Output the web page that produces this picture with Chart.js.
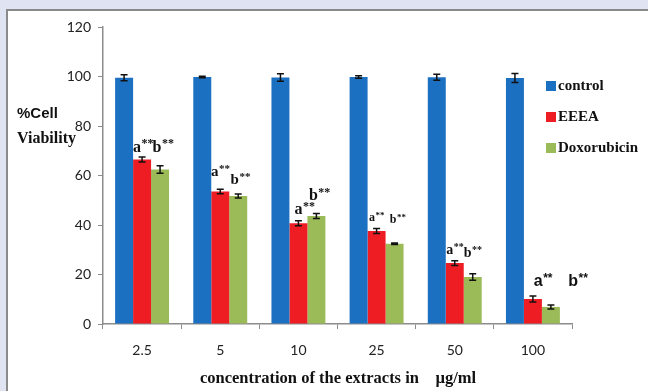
<!DOCTYPE html>
<html>
<head>
<meta charset="utf-8">
<script src="https://cdn.jsdelivr.net/npm/chart.js@4.4.1/dist/chart.umd.min.js"></script>
<style>
  html, body { margin: 0; padding: 0; background: #dfe3f2; overflow: hidden; }
  #frame { position: absolute; left: 6px; top: 9px; right: 0; bottom: 0; min-height: 382px;
           background: #fff; border-top: 2px solid #8a8a8a; border-left: 2px solid #8a8a8a; }
  #c { position: absolute; left: 0; top: 0; }
</style>
</head>
<body>
<div id="frame"></div>
<canvas id="c" width="648" height="391"></canvas>
<script>
// concentrations (ug/ml)
const concentrations = ['2.5', '5', '10', '25', '50', '100'];

// % cell viability
const control = [99.5, 99.8, 99.6, 99.8, 99.7, 99.4];
const eeea = [66.5, 53.5, 40.7, 37.6, 24.6, 10.1];
const doxorubicin = [62.4, 51.7, 43.6, 32.4, 19.0, 6.9];

// error bars (+/-)
const controlErr = [1.2, 0.3, 1.5, 0.5, 1.2, 1.8];
const eeeaErr = [1.0, 0.9, 1.0, 1.0, 1.0, 1.2];
const doxErr = [1.5, 0.8, 1.0, 0.3, 1.3, 0.8];

const yTicks = [0, 20, 40, 60, 80, 100, 120];

// significance marks over EEEA (a) and doxorubicin (b)
const marksA = ['a', 'a', 'a', 'a', 'a', 'a'];
const marksB = ['b', 'b', 'b', 'b', 'b', 'b'];

// label placement relative to bar top (pixels), style only
const aDx = [1, 0, 6, 0, 0, 10], aDy = [-12, -19, -13, -13, -13, -17];
const bDx = [3, 2, 3, 3, 0, 27], bDy = [-22, -16, -20, -24, -24, -25];
const markSize = [16, 15, 16, 12, 14, 16];
const markFont = ['serif', 'serif', 'serif', 'serif', 'serif', 'sans'];

const errs = [controlErr, eeeaErr, doxErr];

const errorBars = {
  id: 'errorBars',
  afterDatasetsDraw(chart) {
    const ctx = chart.ctx, y = chart.scales.y;
    ctx.save();
    ctx.strokeStyle = '#111';
    ctx.lineWidth = 1.5;
    chart.data.datasets.forEach((ds, di) => {
      chart.getDatasetMeta(di).data.forEach((bar, i) => {
        const v = ds.data[i], e = errs[di][i];
        const top = y.getPixelForValue(v + e), bot = y.getPixelForValue(v - e);
        ctx.beginPath();
        ctx.moveTo(bar.x, top); ctx.lineTo(bar.x, bot);
        ctx.moveTo(bar.x - 3.5, top); ctx.lineTo(bar.x + 3.5, top);
        ctx.moveTo(bar.x - 3.5, bot); ctx.lineTo(bar.x + 3.5, bot);
        ctx.stroke();
      });
    });
    ctx.restore();
  }
};

function drawMark(ctx, letter, x, y, size, fam) {
  const face = fam === 'serif' ? '"Liberation Serif", serif' : '"Liberation Sans", sans-serif';
  ctx.font = 'bold ' + size + 'px ' + face;
  const w1 = ctx.measureText(letter).width;
  const starSize = Math.round(size * 0.72);
  ctx.font = 'bold ' + starSize + 'px ' + face;
  const w2 = ctx.measureText('**').width;
  const x0 = x - (w1 + w2) / 2;
  ctx.textAlign = 'left';
  ctx.textBaseline = 'middle';
  ctx.font = 'bold ' + size + 'px ' + face;
  ctx.fillText(letter, x0, y);
  ctx.font = 'bold ' + starSize + 'px ' + face;
  ctx.fillText('**', x0 + w1 + 0.5, y - size * 0.2);
}

const extras = {
  id: 'extras',
  afterDraw(chart) {
    const ctx = chart.ctx;
    ctx.save();
    ctx.fillStyle = '#111';
    const redBars = chart.getDatasetMeta(1).data, greenBars = chart.getDatasetMeta(2).data;
    concentrations.forEach((c, i) => {
      drawMark(ctx, marksA[i], redBars[i].x + aDx[i], redBars[i].y + aDy[i], markSize[i], markFont[i]);
      drawMark(ctx, marksB[i], greenBars[i].x + bDx[i], greenBars[i].y + bDy[i], markSize[i], markFont[i]);
    });

    // y title
    ctx.textAlign = 'left';
    ctx.textBaseline = 'middle';
    ctx.font = 'bold 15px "Liberation Sans", sans-serif';
    ctx.fillText('%Cell', 17, 114);
    ctx.font = 'bold 16px "Liberation Serif", serif';
    ctx.fillText('Viability', 17, 139);

    // x title
    ctx.textAlign = 'center';
    ctx.font = 'bold 16.5px "Liberation Serif", serif';
    ctx.fillText('concentration of the extracts in    \u00b5g/ml', 338, 379);

    // legend
    ctx.textAlign = 'left';
    chart.data.datasets.forEach((ds, i) => {
      const ly = 86 + i * 31;
      ctx.fillStyle = ds.backgroundColor;
      ctx.fillRect(546, ly - 5, 10, 10);
      ctx.fillStyle = '#111';
      ctx.font = 'bold 15px "Liberation Serif", serif';
      ctx.fillText(ds.label, 558, ly);
    });
    ctx.restore();
  }
};

new Chart(document.getElementById('c'), {
  type: 'bar',
  data: {
    labels: concentrations,
    datasets: [
      { label: 'control', data: control, backgroundColor: '#1c70c2' },
      { label: 'EEEA', data: eeea, backgroundColor: '#ee1d24' },
      { label: 'Doxorubicin', data: doxorubicin, backgroundColor: '#9bbb59' }
    ]
  },
  options: {
    responsive: false,
    animation: false,
    layout: { padding: { left: 0, top: 27, right: 76, bottom: 0 } },
    datasets: { bar: { categoryPercentage: 0.69, barPercentage: 1.0 } },
    plugins: { legend: { display: false }, tooltip: { enabled: false } },
    scales: {
      x: {
        afterFit(s) { s.height = 67; },
        grid: { display: true, drawOnChartArea: false, offset: true, color: '#8c8c8c', tickLength: 5 },
        border: { color: '#8c8c8c', width: 1.5 },
        ticks: { color: '#222', padding: 13, font: { family: 'Lato, "Open Sans", sans-serif', size: 14 } }
      },
      y: {
        min: 0, max: 120,
        afterFit(s) { s.width = 103; },
        afterBuildTicks(s) { s.ticks = yTicks.map(v => ({ value: v })); },
        grid: { display: true, drawOnChartArea: false, color: '#8c8c8c', tickLength: 5 },
        border: { color: '#8c8c8c', width: 1.5 },
        ticks: { color: '#222', padding: 7, font: { family: 'Lato, "Open Sans", sans-serif', size: 14 } }
      }
    }
  },
  plugins: [errorBars, extras]
});
</script>
</body>
</html>
